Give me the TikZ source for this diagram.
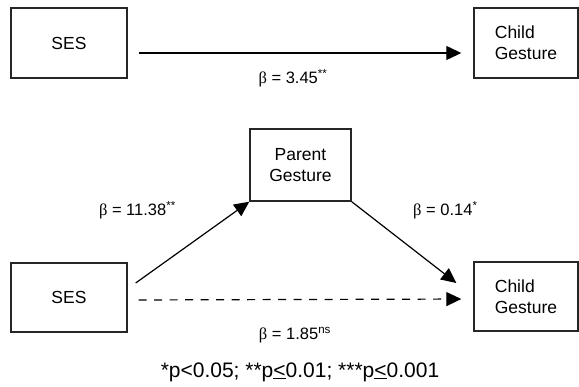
\documentclass[tikz,border=0pt]{standalone}
\usepackage{fontspec}
\setmainfont{Liberation Sans}
\newfontfamily\betafont{Liberation Serif}
\usetikzlibrary{arrows.meta}
\tikzset{
  box/.style={draw=black!85, line width=1.4pt, inner sep=0pt, font=\fontsize{17.5}{21}\selectfont},
  arr/.style={line width=1.2pt, -{Triangle[length=15pt,width=14pt]}},
  lbl/.style={inner sep=0pt, font=\fontsize{16.5}{19}\selectfont},
}
\newcommand{\bet}{{\betafont β}}
\newcommand{\leqbar}{\underline{<}}
\begin{document}
\begin{tikzpicture}[x=1pt,y=-1pt]
\useasboundingbox (0,0) rectangle (579,387);
% top model
\node[box, minimum width=116pt, minimum height=70pt] (ses1) at (69,43) {SES};
\node[box, minimum width=104pt, minimum height=70pt, align=left] (child1) at (526,43) {Child\\Gesture};
\draw[arr, shorten <=11pt, shorten >=12pt] ([yshift=-10pt]ses1.east) -- ([yshift=-10pt]child1.west);
\node[lbl] (l1) at (293,78) {\bet{} = 3.45\textsuperscript{**}};
% mediation model
\node[box, minimum width=101pt, minimum height=72pt, align=center] (parent) at (300.5,165) {Parent\\Gesture};
\node[box, minimum width=116pt, minimum height=69pt] (ses2) at (69,297.5) {SES};
\node[box, minimum width=104pt, minimum height=69pt, align=left] (child2) at (526,296.5) {Child\\Gesture};
\coordinate (d1s) at ([xshift=8pt,yshift=14.5pt]ses2.east);
\coordinate (d2e) at ([xshift=-17pt,yshift=13.5pt]child2.west);
\draw[arr] (d1s) -- (parent.south west);
\draw[arr] (parent.south east) -- (d2e);
\draw[arr, dash pattern=on 8pt off 7.5pt, shorten <=11pt, shorten >=12pt] ([yshift=-2.5pt]ses2.east) -- ([yshift=-2.5pt]child2.west);
\node[lbl, anchor=east] (l2) at (176,210) {\bet{} = 11.38\textsuperscript{**}};
\node[lbl, anchor=west] (l3) at (413,210) {\bet{} = 0.14\textsuperscript{*}};
\node[lbl] (l4) at (295,335) {\bet{} = 1.85\textsuperscript{ns}};
\node[inner sep=0pt, font=\fontsize{21}{25}\selectfont] (note) at (300,372) {*p<0.05; **p\leqbar0.01; ***p\leqbar0.001};
\end{tikzpicture}
\end{document}
